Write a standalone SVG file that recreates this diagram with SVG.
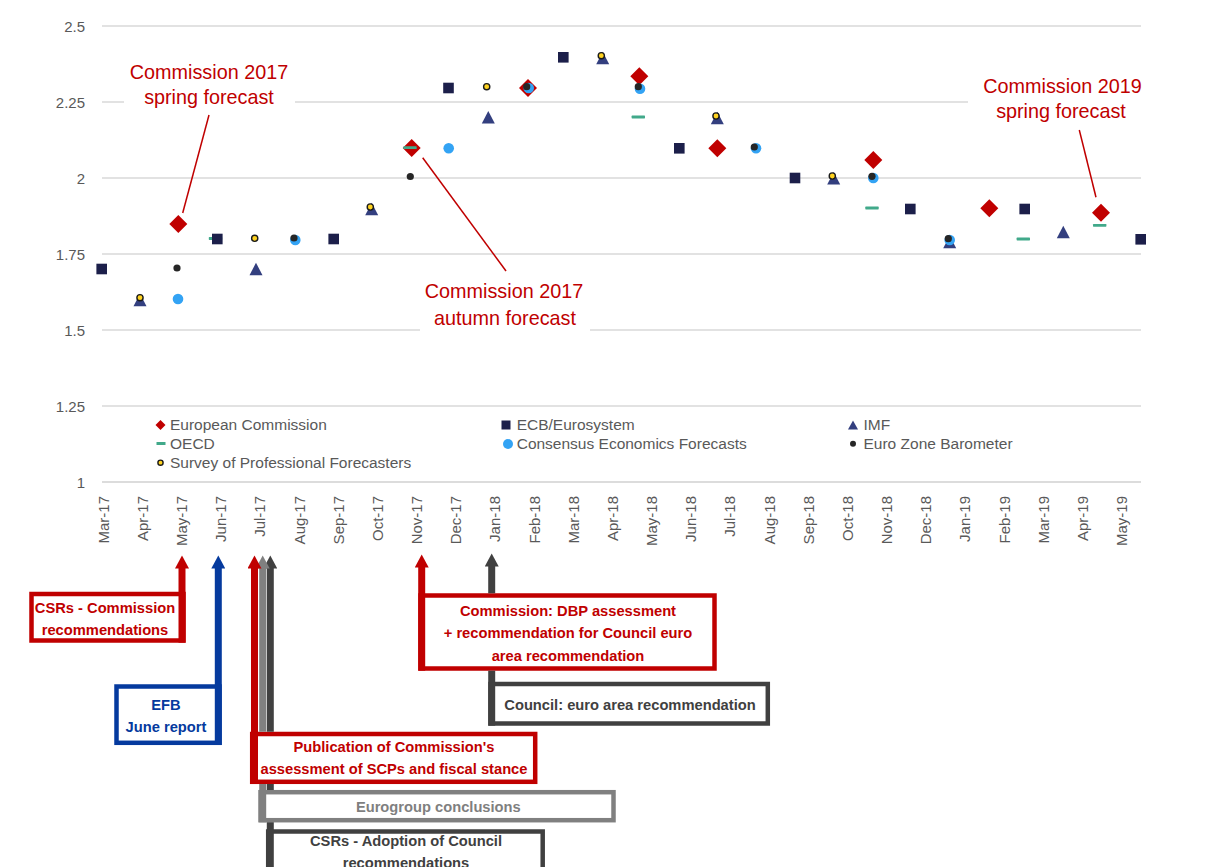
<svg xmlns="http://www.w3.org/2000/svg" width="1209" height="867" viewBox="0 0 1209 867">
<style>
text{font-family:"Liberation Sans",Arial,sans-serif}
.grid{stroke:#D9D9D9;stroke-width:1.3;fill:none}
.ax{font-size:15px;fill:#595959}
.axr{font-size:15px;fill:#595959;text-anchor:end}
.lg{font-size:15.5px;fill:#595959}
.ann{font-size:19.8px;fill:#C00000;text-anchor:middle}
.lead{stroke:#C00000;stroke-width:1.5;fill:none}
.ec{fill:#C00000}.ecb{fill:#1C1F4A}.imf{fill:#333F7F}.oecd{fill:#41A98A}.cons{fill:#33A3F4}.ezb{fill:#262626}
.spf{fill:#FFD320;stroke:#1A1A1A;stroke-width:1.4}
.box{fill:#fff;stroke-width:4.5}
.bt{font-size:14.7px;font-weight:bold;text-anchor:middle}
.red{stroke:#C00000}.blue{stroke:#053A9E}.grey{stroke:#808080}.dark{stroke:#404040}
.tred{fill:#C00000}.tblue{fill:#053A9E}.tgrey{fill:#7F7F7F}.tdark{fill:#404040}
.shaft{fill:none;stroke-width:7}
</style>
<defs>
<path id="dia" d="M0,-9L9,0L0,9L-9,0Z"/>
<rect id="sq" x="-5.3" y="-5.3" width="10.6" height="10.6"/>
<path id="tri" d="M0,-6.3L6.5,6.3L-6.5,6.3Z"/>
<rect id="dash" x="-6.7" y="-1.4" width="13.4" height="2.8" rx="0.6"/>
<marker id="ah-red" markerUnits="userSpaceOnUse" markerWidth="14" markerHeight="14" viewBox="0 0 14 14" refX="0.5" refY="7" orient="auto"><path d="M0,0L13,7L0,14Z" fill="#C00000"/></marker>
<marker id="ah-blue" markerUnits="userSpaceOnUse" markerWidth="14" markerHeight="14" viewBox="0 0 14 14" refX="0.5" refY="7" orient="auto"><path d="M0,0L13,7L0,14Z" fill="#053A9E"/></marker>
<marker id="ah-grey" markerUnits="userSpaceOnUse" markerWidth="14" markerHeight="14" viewBox="0 0 14 14" refX="0.5" refY="7" orient="auto"><path d="M0,0L13,7L0,14Z" fill="#808080"/></marker>
<marker id="ah-dark" markerUnits="userSpaceOnUse" markerWidth="14" markerHeight="14" viewBox="0 0 14 14" refX="0.5" refY="7" orient="auto"><path d="M0,0L13,7L0,14Z" fill="#404040"/></marker>
</defs>
<rect width="1209" height="867" fill="#fff"/>

<g id="gridlines">
<path class="grid" d="M102,26H1141M102,102H1141M102,178H1141M102,254H1141M102,330H1141M102,406H1141"/>
<path d="M102,482H1141" stroke="#D0D0D0" stroke-width="1.6"/>
</g>

<g id="y-axis">
<text class="axr" x="85" y="32">2.5</text>
<text class="axr" x="85" y="108">2.25</text>
<text class="axr" x="85" y="184">2</text>
<text class="axr" x="85" y="260">1.75</text>
<text class="axr" x="85" y="336">1.5</text>
<text class="axr" x="85" y="412">1.25</text>
<text class="axr" x="85" y="488">1</text>
</g>

<g id="x-axis" class="ax" text-anchor="end">
<text transform="translate(108.6,496) rotate(-90)">Mar-17</text>
<text transform="translate(147.8,496) rotate(-90)">Apr-17</text>
<text transform="translate(186.9,496) rotate(-90)">May-17</text>
<text transform="translate(226.1,496) rotate(-90)">Jun-17</text>
<text transform="translate(265.3,496) rotate(-90)">Jul-17</text>
<text transform="translate(304.5,496) rotate(-90)">Aug-17</text>
<text transform="translate(343.6,496) rotate(-90)">Sep-17</text>
<text transform="translate(382.8,496) rotate(-90)">Oct-17</text>
<text transform="translate(422,496) rotate(-90)">Nov-17</text>
<text transform="translate(461.1,496) rotate(-90)">Dec-17</text>
<text transform="translate(500.3,496) rotate(-90)">Jan-18</text>
<text transform="translate(539.5,496) rotate(-90)">Feb-18</text>
<text transform="translate(578.6,496) rotate(-90)">Mar-18</text>
<text transform="translate(617.8,496) rotate(-90)">Apr-18</text>
<text transform="translate(657,496) rotate(-90)">May-18</text>
<text transform="translate(696.2,496) rotate(-90)">Jun-18</text>
<text transform="translate(735.3,496) rotate(-90)">Jul-18</text>
<text transform="translate(774.5,496) rotate(-90)">Aug-18</text>
<text transform="translate(813.7,496) rotate(-90)">Sep-18</text>
<text transform="translate(852.8,496) rotate(-90)">Oct-18</text>
<text transform="translate(892,496) rotate(-90)">Nov-18</text>
<text transform="translate(931.2,496) rotate(-90)">Dec-18</text>
<text transform="translate(970.3,496) rotate(-90)">Jan-19</text>
<text transform="translate(1009.5,496) rotate(-90)">Feb-19</text>
<text transform="translate(1048.7,496) rotate(-90)">Mar-19</text>
<text transform="translate(1087.9,496) rotate(-90)">Apr-19</text>
<text transform="translate(1127,496) rotate(-90)">May-19</text>
</g>

<g id="annotations">
<rect x="124" y="58" width="171" height="52" fill="#fff"/>
<text class="ann" x="209" y="79">Commission 2017</text>
<text class="ann" x="209" y="104">spring forecast</text>
<path class="lead" d="M209,115L182.7,213"/>
<rect x="420" y="277" width="170" height="57" fill="#fff"/>
<text class="ann" x="504" y="298">Commission 2017</text>
<text class="ann" x="505" y="325">autumn forecast</text>
<path class="lead" d="M422.7,157.7L506,271"/>
<rect x="968" y="72" width="180" height="52" fill="#fff"/>
<text class="ann" x="1062.5" y="93">Commission 2019</text>
<text class="ann" x="1061" y="118">spring forecast</text>
<path class="lead" d="M1079.3,130L1096,197.3"/>
</g>

<g id="series-ec" class="ec">
<use href="#dia" x="178.3" y="224"/>
<use href="#dia" x="411.7" y="148"/>
<use href="#dia" x="528" y="88"/>
<use href="#dia" x="639.3" y="76.3"/>
<use href="#dia" x="717.3" y="148.3"/>
<use href="#dia" x="873.3" y="160"/>
<use href="#dia" x="989.3" y="208.3"/>
<use href="#dia" x="1101" y="212.7"/>
</g>
<g id="series-oecd" class="oecd">
<use href="#dash" x="215.5" y="238.5"/>
<use href="#dash" x="410" y="147.7"/>
<use href="#dash" x="638.3" y="117"/>
<use href="#dash" x="872" y="208"/>
<use href="#dash" x="1023.3" y="239"/>
<use href="#dash" x="1099.7" y="225.3"/>
</g>
<g id="series-ecb" class="ecb">
<use href="#sq" x="101.7" y="269"/>
<use href="#sq" x="217.3" y="239"/>
<use href="#sq" x="333.7" y="239"/>
<use href="#sq" x="448.5" y="88"/>
<use href="#sq" x="563.3" y="57.3"/>
<use href="#sq" x="679.3" y="148.3"/>
<use href="#sq" x="795" y="178"/>
<use href="#sq" x="910.3" y="209"/>
<use href="#sq" x="1024.7" y="209"/>
<use href="#sq" x="1140.7" y="239.3"/>
</g>
<g id="series-imf" class="imf">
<use href="#tri" x="140" y="300"/>
<use href="#tri" x="256" y="269"/>
<use href="#tri" x="371.7" y="209"/>
<use href="#tri" x="488.3" y="117.3"/>
<use href="#tri" x="602.7" y="58"/>
<use href="#tri" x="717.3" y="118"/>
<use href="#tri" x="833.7" y="178.3"/>
<use href="#tri" x="949.7" y="242"/>
<use href="#tri" x="1063.3" y="232"/>
</g>
<g id="series-consensus" class="cons">
<circle cx="178" cy="299" r="5.3"/>
<circle cx="295.3" cy="240" r="5.3"/>
<circle cx="448.7" cy="148.3" r="5.3"/>
<circle cx="528.7" cy="88" r="5.3"/>
<circle cx="640" cy="88.7" r="5.3"/>
<circle cx="756" cy="148.3" r="5.3"/>
<circle cx="873.3" cy="178" r="5.3"/>
<circle cx="949.7" cy="240" r="5.3"/>
</g>
<g id="series-ezb" class="ezb">
<circle cx="177" cy="268" r="3.6"/>
<circle cx="294" cy="238" r="3.6"/>
<circle cx="410.3" cy="176.5" r="3.6"/>
<circle cx="526.7" cy="86.7" r="3.6"/>
<circle cx="638.3" cy="86.7" r="3.6"/>
<circle cx="754.3" cy="147" r="3.6"/>
<circle cx="872" cy="176.3" r="3.6"/>
<circle cx="948.3" cy="238.7" r="3.6"/>
</g>
<g id="series-spf" class="spf">
<circle cx="140" cy="297.7" r="3.1"/>
<circle cx="254.7" cy="238.3" r="3.1"/>
<circle cx="370.3" cy="207" r="3.1"/>
<circle cx="486.7" cy="86.7" r="3.1"/>
<circle cx="601.3" cy="55.7" r="3.1"/>
<circle cx="716" cy="116" r="3.1"/>
<circle cx="832.3" cy="176" r="3.1"/>
</g>

<g id="legend">
<path class="ec" d="M160.5,420L165.5,425L160.5,430L155.5,425Z"/>
<text class="lg" x="170" y="430">European Commission</text>
<rect class="ecb" x="501.5" y="420.5" width="9" height="9"/>
<text class="lg" x="516.7" y="430">ECB/Eurosystem</text>
<path class="imf" d="M853,420.5L858,429.5L848,429.5Z"/>
<text class="lg" x="863.5" y="430">IMF</text>
<rect class="oecd" x="156.5" y="442" width="9" height="3"/>
<text class="lg" x="170" y="449">OECD</text>
<circle class="cons" cx="508" cy="444" r="5"/>
<text class="lg" x="516.7" y="449">Consensus Economics Forecasts</text>
<circle class="ezb" cx="853" cy="443.7" r="3"/>
<text class="lg" x="863.5" y="449">Euro Zone Barometer</text>
<circle class="spf" cx="160.5" cy="462.7" r="2.6" stroke-width="1.3"/>
<text class="lg" x="170" y="468">Survey of Professional Forecasters</text>
</g>

<g id="node-csr-commission">
<rect class="box red" x="31.5" y="594" width="152" height="46.5"/>
<text class="bt tred" x="105" y="613.3">CSRs - Commission</text>
<text class="bt tred" x="105" y="635">recommendations</text>
</g>
<g id="node-efb">
<rect class="box blue" x="116.5" y="686.5" width="103" height="56.3"/>
<text class="bt tblue" x="166" y="710">EFB</text>
<text class="bt tblue" x="166" y="731.7">June report</text>
</g>
<g id="node-dbp">
<rect class="box red" x="420.5" y="595.5" width="294" height="73"/>
<text class="bt tred" x="568" y="615.7">Commission: DBP assessment</text>
<text class="bt tred" x="568" y="638.3">+ recommendation for Council euro</text>
<text class="bt tred" x="568" y="660.7">area recommendation</text>
</g>
<g id="node-council">
<rect class="box dark" x="490.5" y="684" width="277.3" height="39.5"/>
<text class="bt tdark" x="630" y="710">Council: euro area recommendation</text>
</g>
<g id="node-publication">
<rect class="box red" x="252.2" y="734" width="283" height="47.8"/>
<text class="bt tred" x="394" y="752.3">Publication of Commission's</text>
<text class="bt tred" x="394" y="774">assessment of SCPs and fiscal stance</text>
</g>
<g id="node-eurogroup">
<rect class="box grey" x="260.5" y="792.2" width="353" height="28"/>
<text class="bt tgrey" x="438.3" y="812.3">Eurogroup conclusions</text>
</g>
<g id="node-csr-adoption">
<rect class="box dark" x="268.2" y="831.5" width="274.5" height="50"/>
<text class="bt tdark" x="406" y="845.7">CSRs - Adoption of Council</text>
<text class="bt tdark" x="406" y="868">recommendations</text>
</g>

<g id="connectors">
<path class="shaft red" d="M182,642.7V568" marker-end="url(#ah-red)"/>
<path class="shaft blue" d="M218.3,745V568" marker-end="url(#ah-blue)"/>
<path class="shaft dark" d="M270.3,867V822.3M270.3,790V784"/>
<path class="shaft dark" d="M270.3,731.7V568" marker-end="url(#ah-dark)"/>
<path class="shaft grey" d="M262.7,822.3V784"/>
<path class="shaft grey" d="M262.7,731.7V568" marker-end="url(#ah-grey)"/>
<path class="shaft red" d="M254.5,784V568" marker-end="url(#ah-red)"/>
<path class="shaft red" d="M421.7,670.7V567" marker-end="url(#ah-red)"/>
<path class="shaft dark" d="M491.7,725.7V670.7"/>
<path class="shaft dark" d="M491.7,593.3V566" marker-end="url(#ah-dark)"/>
</g>
</svg>
